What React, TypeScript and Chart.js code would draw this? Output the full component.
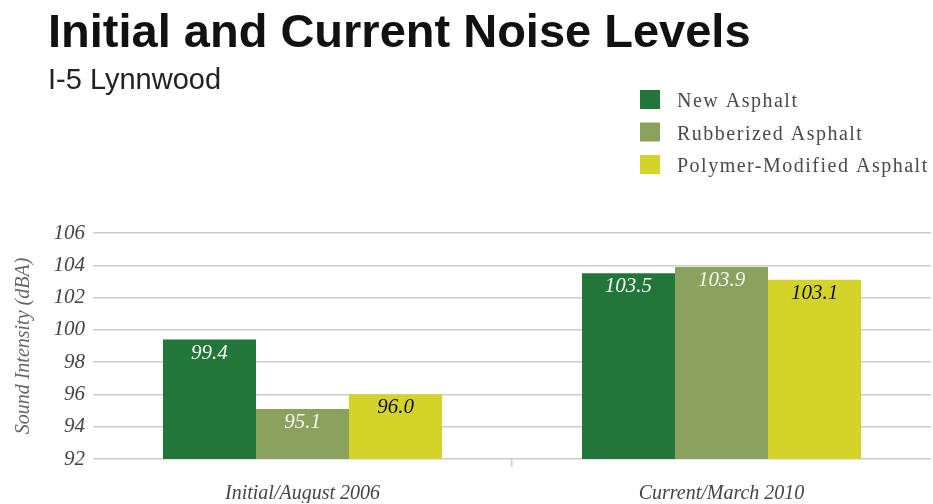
import React, { useEffect, useRef } from "react";
import { Chart, registerables } from "chart.js";

Chart.register(...registerables);

const TITLE = "Initial and Current Noise Levels";
const SUBTITLE = "I-5 Lynnwood";
const Y_TITLE = "Sound Intensity (dBA)";
const categories = ["Initial/August 2006", "Current/March 2010"];
const seriesNames = ["New Asphalt", "Rubberized Asphalt", "Polymer-Modified Asphalt"];
const newAsphalt = [99.4, 103.5];
const rubberizedAsphalt = [95.1, 103.9];
const polymerAsphalt = [96.0, 103.1];
const seriesColors = ["#22763A", "#8AA25E", "#D4D329"];
const labelColors = ["#F5F5F5", "#F5F5F5", "#111111"];
const yMin = 92;
const yMax = 106;
const yStep = 2;

const headerPlugin = {
  id: "header",
  afterDraw(chart: any) {
    const ctx = chart.ctx;
    ctx.save();
    ctx.textAlign = "left";
    ctx.textBaseline = "alphabetic";
    ctx.fillStyle = "#111";
    ctx.font = 'bold 47px "Liberation Sans", Arial, sans-serif';
    ctx.fillText(TITLE, 48, 47);
    ctx.fillStyle = "#222";
    ctx.font = '29px "Liberation Sans", Arial, sans-serif';
    ctx.fillText(SUBTITLE, 48, 89);

    // legend
    chart.data.datasets.forEach((ds: any, i: number) => {
      const top = 90 + i * 32.5;
      ctx.fillStyle = ds.backgroundColor;
      ctx.fillRect(640, top, 20, 19);
      ctx.fillStyle = "#4a4a4a";
      ctx.font = '20px "Liberation Serif", "Times New Roman", serif';
      try { (ctx as any).letterSpacing = "1.5px"; } catch (e) {}
      ctx.fillText(ds.label, 677, top + 17);
      try { (ctx as any).letterSpacing = "0px"; } catch (e) {}
    });
    ctx.restore();
  },
};

const valueLabelPlugin = {
  id: "valueLabels",
  afterDatasetsDraw(chart: any) {
    const ctx = chart.ctx;
    ctx.save();
    ctx.textAlign = "center";
    ctx.textBaseline = "alphabetic";
    ctx.font = 'italic 21px "Liberation Serif", "Times New Roman", serif';
    chart.data.datasets.forEach((ds: any, di: number) => {
      const meta = chart.getDatasetMeta(di);
      meta.data.forEach((el: any, i: number) => {
        const v = ds.data[i];
        ctx.fillStyle = labelColors[di];
        ctx.fillText(Number(v).toFixed(1), el.x, el.y + 19);
      });
    });
    ctx.restore();
  },
};

export default function App() {
  const ref = useRef<HTMLCanvasElement>(null);
  useEffect(() => {
    document.body.style.margin = "0";
    const canvas = ref.current!;
    const chart = new Chart(canvas, {
      type: "bar",
      data: {
        labels: categories,
        datasets: [newAsphalt, rubberizedAsphalt, polymerAsphalt].map((d, i) => ({
          label: seriesNames[i],
          data: d,
          backgroundColor: seriesColors[i],
          borderWidth: 0,
          barPercentage: 1,
          categoryPercentage: 0.666,
        })),
      },
      options: {
        responsive: false,
        animation: false,
        layout: { padding: { top: 233, left: 0, right: 2, bottom: 1 } },
        plugins: {
          legend: { display: false },
          title: { display: false },
          tooltip: { enabled: false },
        },
        scales: {
          x: {
            offset: true,
            border: { display: false },
            grid: {
              offset: true,
              drawOnChartArea: false,
              drawTicks: true,
              tickLength: 8,
              lineWidth: 1.5,
              color: (c: any) => (c.index === 1 ? "#cccccc" : "rgba(0,0,0,0)"),
            },
            ticks: {
              padding: 15,
              maxRotation: 0,
              color: "#444",
              font: { family: '"Liberation Serif", "Times New Roman", serif', size: 20, style: "italic" },
            },
            afterFit: (scale: any) => {
              scale.height = 44;
            },
          },
          y: {
            min: yMin,
            max: yMax,
            border: { display: false },
            grid: { drawTicks: false, color: "#cccccc", lineWidth: 1.5 },
            ticks: {
              stepSize: yStep,
              padding: 8,
              color: "#444",
              font: { family: '"Liberation Serif", "Times New Roman", serif', size: 21, style: "italic" },
            },
            title: {
              display: true,
              text: Y_TITLE,
              color: "#666",
              padding: { top: 12, bottom: 0 },
              font: { family: '"Liberation Serif", "Times New Roman", serif', size: 20, style: "italic" },
            },
            afterFit: (scale: any) => {
              scale.width = 93;
            },
          },
        },
      },
      plugins: [headerPlugin, valueLabelPlugin],
    });
    return () => chart.destroy();
  }, []);
  return (
    <div style={{ position: "absolute", left: 0, top: 0, width: 933, height: 504, background: "#fff" }}>
      <canvas ref={ref} width={933} height={504} style={{ display: "block" }} />
    </div>
  );
}
